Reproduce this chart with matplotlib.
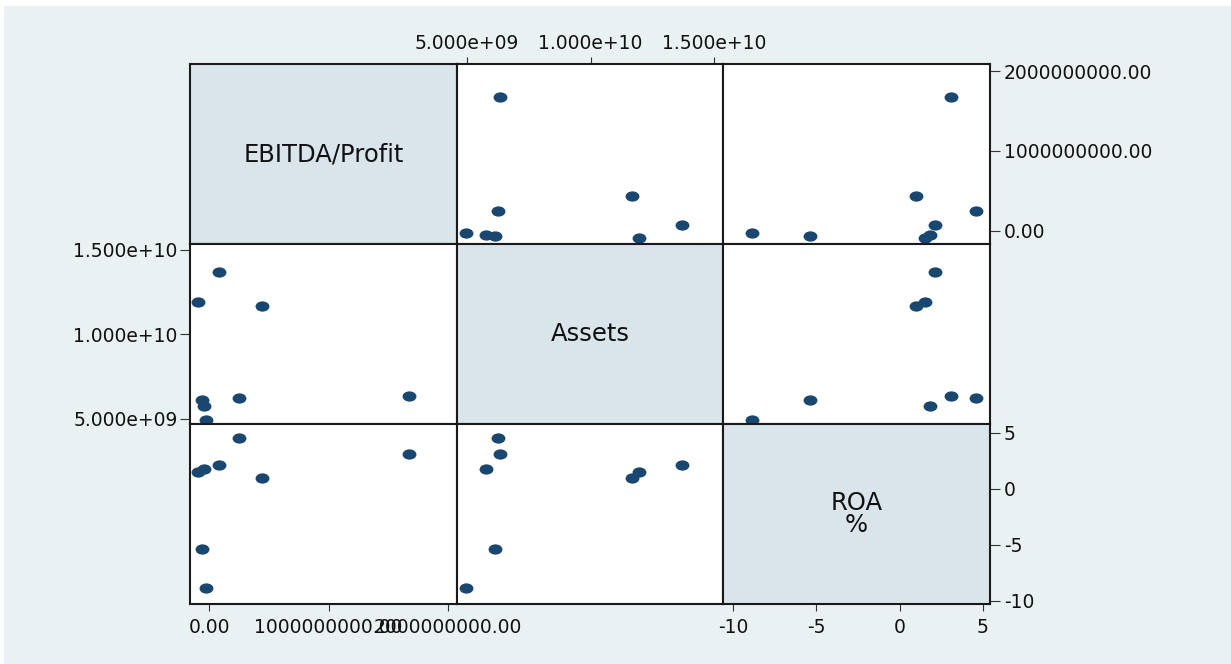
import matplotlib
matplotlib.use('Agg')
import matplotlib.pyplot as plt
from matplotlib.path import Path
from matplotlib.patches import Rectangle

# Data (8 firms)
ebitda = [0.25e9, 1.67e9, 0.08e9, -0.045e9, -0.09e9, 0.44e9, -0.06e9, -0.027e9]
assets = [6.25e9, 6.35e9, 13.7e9, 5.76e9, 11.95e9, 11.68e9, 6.14e9, 4.96e9]
roa = [4.55, 3.1, 2.1, 1.8, 1.5, 0.95, -5.4, -8.85]

var_names = ['EBITDA/Profit', 'Assets', 'ROA\n%']
variables = [ebitda, assets, roa]

ebitda_ticks = [0, 1e9, 2e9]
ebitda_labels = ['0.00', '1000000000.00', '2000000000.00']
assets_ticks = [5e9, 1e10, 1.5e10]
assets_labels = ['5.000e+09', '1.000e+10', '1.500e+10']
roa_ticks = [-10, -5, 0, 5]
roa_labels = ['-10', '-5', '0', '5']

# axis ranges (x direction per column, y direction per row)
xlims = [(-0.159e9, 2.075e9), (4.595e9, 15.36e9), (-10.6, 5.42)]
ylims = [(-0.1625e9, 2.0875e9), (4.70e9, 15.355e9), (-10.27, 5.8)]

W, H = 1231, 664
bg = '#e9f1f3'
diag = '#d9e5eb'
navy = '#1a476f'

plt.rcParams['font.family'] = ['DejaVu Sans']

fig = plt.figure(figsize=(W / 100, H / 100), dpi=100, facecolor='white')
fig.patches.append(Rectangle((4 / W, 0), 1, 1 - 6 / H, transform=fig.transFigure,
                             facecolor=bg, edgecolor='none', zorder=-10))

# ellipse marker (slightly wider than tall)
circ = Path.unit_circle()
ellipse = Path(circ.vertices * [1.35, 1.0], circ.codes)

col_x = [190, 457, 723, 990]
row_y = [64, 244, 424, 604]

axes = [[None] * 3 for _ in range(3)]
for i in range(3):
    for j in range(3):
        left = col_x[j] / W
        width = (col_x[j + 1] - col_x[j]) / W
        bottom = 1 - row_y[i + 1] / H
        height = (row_y[i + 1] - row_y[i]) / H
        ax = fig.add_axes([left, bottom, width, height])
        axes[i][j] = ax
        ax.set_xlim(xlims[j])
        ax.set_ylim(ylims[i])
        ax.set_xticks([])
        ax.set_yticks([])
        for s in ax.spines.values():
            s.set_color('#1a1a1a')
            s.set_linewidth(1.5)
        if i == j:
            ax.set_facecolor(diag)
            ax.text(0.5, 0.5, var_names[i], transform=ax.transAxes, ha='center',
                    va='center', fontsize=17.5, linespacing=0.9, color='#111111')
        else:
            ax.set_facecolor('white')
            ax.plot(variables[j], variables[i], linestyle='none', marker=ellipse,
                    ms=10, color=navy, mec='none')

tick_kw = dict(color='#333333', labelsize=13.5, labelcolor='#111111')

# top axis: Assets over column 1
ax = axes[0][1]
ax.xaxis.tick_top()
ax.set_xticks(assets_ticks, assets_labels)
ax.tick_params(axis='x', length=5, pad=3, **tick_kw)

# right axis: EBITDA beside row 0
ax = axes[0][2]
ax.yaxis.tick_right()
ax.set_yticks(ebitda_ticks, ebitda_labels)
ax.tick_params(axis='y', length=7, pad=3, **tick_kw)

# left axis: Assets beside row 1
ax = axes[1][0]
ax.set_yticks(assets_ticks, assets_labels)
ax.tick_params(axis='y', length=7, pad=2, **tick_kw)

# bottom axis: EBITDA under column 0
ax = axes[2][0]
ax.set_xticks(ebitda_ticks, ebitda_labels)
ax.tick_params(axis='x', length=5, pad=5, **tick_kw)

# ROA diagonal: bottom and right axes
ax = axes[2][2]
ax.set_xticks(roa_ticks, roa_labels)
ax.tick_params(axis='x', length=5, pad=5, **tick_kw)
ax.yaxis.tick_right()
ax.set_yticks(roa_ticks, roa_labels)
ax.tick_params(axis='y', length=7, pad=3, **tick_kw)

fig.savefig('out.png', dpi=100, facecolor=fig.get_facecolor())
